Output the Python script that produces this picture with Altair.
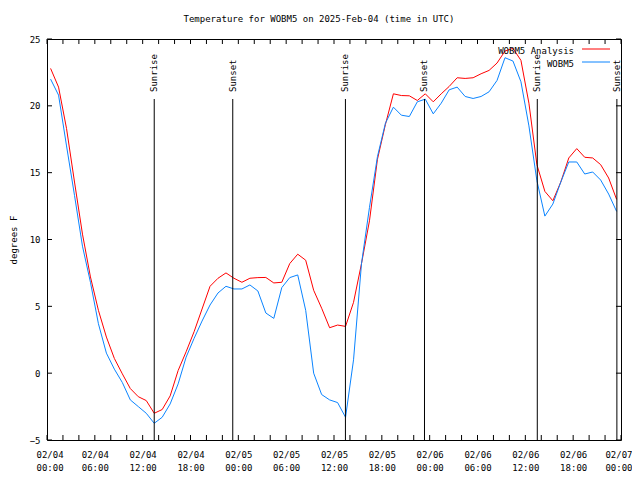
import altair as alt
import pandas as pd

# ---------------- data ----------------
title_text = "Temperature for WOBM5 on 2025-Feb-04 (time in UTC)"
y_title = "degrees F"
series_names = ["WOBM5 Analysis", "WOBM5"]
series_colors = ["#ff0000", "#0a84ff"]

start_time = pd.Timestamp("2025-02-04 00:00")
obs_times = pd.date_range("2025-02-04 00:27", periods=72, freq="h")

analysis_temps = [
    22.8, 21.4, 18.3, 14.3, 10.4, 7.2, 4.7, 2.7, 1.1, -0.05, -1.15, -1.76,
    -2.05, -3.0, -2.72, -1.7, 0.2, 1.6, 3.1, 4.8, 6.5, 7.1, 7.5, 7.1,
    6.8, 7.1, 7.15, 7.16, 6.75, 6.8, 8.2, 8.9, 8.45, 6.2, 4.86, 3.4,
    3.6, 3.5, 5.3, 8.2, 11.4, 16.0, 18.6, 20.9, 20.77, 20.75, 20.4, 20.9,
    20.3, 20.9, 21.45, 22.1, 22.05, 22.1, 22.4, 22.65, 23.2, 24.1, 24.3, 23.4,
    20.2, 15.6, 13.6, 12.9, 14.3, 16.1, 16.8, 16.15, 16.1, 15.6, 14.6, 13.0,
]
station_temps = [
    22.0, 20.8, 17.0, 13.3, 9.5, 6.8, 3.7, 1.5, 0.3, -0.7, -2.0, -2.5,
    -3.0, -3.75, -3.3, -2.3, -0.8, 1.2, 2.6, 3.9, 5.1, 6.0, 6.5, 6.3,
    6.3, 6.6, 6.15, 4.5, 4.1, 6.4, 7.15, 7.35, 4.7, 0.0, -1.6, -2.0,
    -2.2, -3.3, 1.0, 8.2, 12.4, 16.2, 18.7, 19.9, 19.3, 19.2, 20.3, 20.5,
    19.4, 20.2, 21.2, 21.4, 20.7, 20.55, 20.7, 21.05, 21.9, 23.6, 23.35, 21.8,
    18.5, 14.4, 11.75, 12.65, 14.3, 15.8, 15.8, 14.9, 15.05, 14.45, 13.4, 12.1,
]

sun_labels = ["Sunrise", "Sunset", "Sunrise", "Sunset", "Sunrise", "Sunset"]
sun_times = ["2025-02-04 13:27", "2025-02-04 23:18", "2025-02-05 13:26",
             "2025-02-05 23:21", "2025-02-06 13:30", "2025-02-06 23:29"]

x_tick_hours = [0, 6, 12, 18, 24, 30, 36, 42, 48, 54, 60, 66, 72]
x_tick_days = ["02/04", "02/04", "02/04", "02/04", "02/05", "02/05", "02/05",
               "02/05", "02/06", "02/06", "02/06", "02/06", "02/07"]
x_tick_clock = ["00:00", "06:00", "12:00", "18:00", "00:00", "06:00", "12:00",
                "18:00", "00:00", "06:00", "12:00", "18:00", "00:00"]
x_minor_hours = list(range(0, 73, 2))
y_tick_values = [-5, 0, 5, 10, 15, 20, 25]

# ---------------- build ----------------
W, H = 574, 401
FONT = "DejaVu Sans Mono"
FS = 9

hours = list((obs_times - start_time) / pd.Timedelta(hours=1))
df_a = pd.DataFrame({"h": hours, "t": analysis_temps})
df_s = pd.DataFrame({"h": hours, "t": station_temps})
df_sun = pd.DataFrame({
    "h": list((pd.to_datetime(sun_times) - start_time) / pd.Timedelta(hours=1)),
    "label": sun_labels,
})
df_xt = pd.DataFrame({"h": x_minor_hours})
df_yt = pd.DataFrame({"v": y_tick_values})

label_js = "[" + ",".join(
    f"['{d}','{c}']" for d, c in zip(x_tick_days, x_tick_clock)) + "]"

xscale = alt.Scale(domain=[0, 72], nice=False, zero=False)
yscale = alt.Scale(domain=[-5, 25], nice=False, zero=False)

x_axis = alt.Axis(
    values=x_tick_hours, labelExpr=f"{label_js}[round(datum.value/6)]",
    ticks=False, domain=False, grid=False, labelFont=FONT, labelFontSize=FS,
    labelColor="black", labelBaseline="top", labelPadding=10,
    labelLineHeight=13, title=None,
    labelFlush=True, labelFlushOffset=11, labelOverlap=False,
)
y_axis = alt.Axis(
    values=y_tick_values, ticks=False, domain=False, grid=False,
    labelFont=FONT, labelFontSize=FS, labelColor="black", labelPadding=7,
    title=y_title, titleFont=FONT, titleFontSize=FS, titleFontWeight="normal",
    titleColor="black", titleAngle=270, titleX=-34, titleY=H / 2,
    titleAlign="center", titleBaseline="middle",
)

base_x = alt.X("h:Q", scale=xscale, axis=x_axis)

line_a = alt.Chart(df_a).mark_line(color=series_colors[0], strokeWidth=1).encode(
    x=base_x, y=alt.Y("t:Q", scale=yscale, axis=y_axis))
line_s = alt.Chart(df_s).mark_line(color=series_colors[1], strokeWidth=1).encode(
    x=alt.X("h:Q", scale=xscale), y=alt.Y("t:Q", scale=yscale))

sun_rules = alt.Chart(df_sun).mark_rule(color="black", strokeWidth=1).encode(
    x=alt.X("h:Q", scale=xscale), y=alt.value(60), y2=alt.value(H))
sun_text = alt.Chart(df_sun).mark_text(
    angle=270, align="left", baseline="middle", font=FONT, fontSize=FS,
    color="black").encode(
    x=alt.X("h:Q", scale=xscale), y=alt.value(53), text="label:N")

xt_bottom = alt.Chart(df_xt).mark_rule(color="black").encode(
    x=alt.X("h:Q", scale=xscale), y=alt.value(H - 5), y2=alt.value(H))
xt_top = alt.Chart(df_xt).mark_rule(color="black").encode(
    x=alt.X("h:Q", scale=xscale), y=alt.value(0), y2=alt.value(5))
yt_left = alt.Chart(df_yt).mark_rule(color="black").encode(
    y=alt.Y("v:Q", scale=yscale), x=alt.value(0), x2=alt.value(5))
yt_right = alt.Chart(df_yt).mark_rule(color="black").encode(
    y=alt.Y("v:Q", scale=yscale), x=alt.value(W - 5), x2=alt.value(W))

legend_layers = []
for i, (name, col) in enumerate(zip(series_names, series_colors)):
    ly = 10 + 13 * i
    legend_layers.append(
        alt.Chart(pd.DataFrame({"name": [name]})).mark_text(
            align="right", baseline="middle", font=FONT, fontSize=FS,
            color="black").encode(text="name:N", x=alt.value(527),
                                  y=alt.value(ly + 2)))
    legend_layers.append(
        alt.Chart(pd.DataFrame({"name": [name]})).mark_rule(
            color=col, strokeWidth=1).encode(
            x=alt.value(535), x2=alt.value(563), y=alt.value(ly)))

chart = alt.layer(
    line_a, line_s, sun_rules, sun_text, xt_bottom, xt_top, yt_left, yt_right,
    *legend_layers,
).properties(
    width=W, height=H,
    title=alt.TitleParams(text=title_text, font=FONT, fontSize=FS,
                          fontWeight="normal", color="black", anchor="middle",
                          dx=-15, offset=11),
    autosize=alt.AutoSizeParams(type="none"),
    padding={"left": 39, "top": 31, "right": 11, "bottom": 40},
    background="white",
).configure_view(stroke="black", strokeWidth=1)

chart.save("out.html", embed_options={"renderer": "svg", "actions": False})
